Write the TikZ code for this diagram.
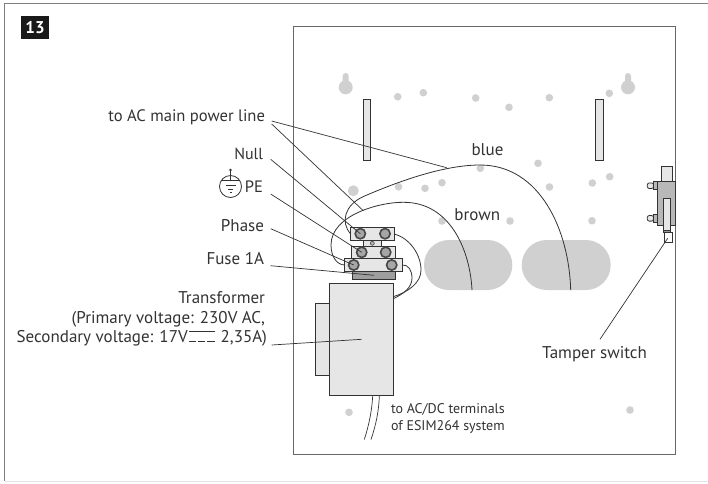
\documentclass[tikz,border=0pt]{standalone}
\usepackage{fontspec}
\setmainfont{PT Sans}
\definecolor{dotgrey}{HTML}{CFD0CF}
\definecolor{pale}{HTML}{E6E6E6}
\definecolor{ink}{HTML}{333333}
\definecolor{framegrey}{HTML}{808080}
\newcommand{\blk}[6]{%
  \pgfmathsetmacro{\cxx}{(#2+#4)/2}\pgfmathsetmacro{\cyy}{(#3+#5)/2}%
  \pgfmathsetmacro{\www}{#4-#2}\pgfmathsetmacro{\hhh}{#5-#3}%
  \node[part,#6,minimum width=\www pt,minimum height=\hhh pt] (#1) at (\cxx,\cyy) {};}
\tikzset{
  part/.style={draw=ink,fill=pale,line width=0.8pt,rectangle,inner sep=0pt,outer sep=0pt},
  hole/.style={fill=dotgrey,draw=none},
  screw/.style={circle,draw=black!72,fill=black!35,line width=1.6pt,minimum size=10.3pt,inner sep=0pt,outer sep=0pt},
  lbl/.style={inner sep=0pt,outer sep=0pt,text=ink,font=\fontsize{17}{19}\selectfont,anchor=base east},
  small/.style={font=\fontsize{14}{16}\selectfont,anchor=base west},
  lead/.style={draw=ink,line width=0.7pt},
  wire/.style={draw=ink,line width=0.8pt}
}
\begin{document}
\begin{tikzpicture}[x=1pt,y=-1pt]
\useasboundingbox (0,0) rectangle (708,483);
\fill[white] (0,0) rectangle (708,483);
% outer frame
\draw[framegrey,line width=1pt] (708,3) -- (4.5,3) -- (4.5,481);
\draw[black!10,line width=0.8pt] (4.5,481.5) -- (708,481.5);
\node[fill=black!90,text=white,inner sep=0pt,minimum width=28pt,minimum height=23pt,font=\fontsize{17}{18}\selectfont\bfseries] (badge) at (35,27.5) {13};
% cabinet
\draw[framegrey!80!black,line width=1pt] (293,26.5) rectangle (675,454.5);
% keyholes
\foreach \kx in {345.7,628}{
  \fill[hole] (\kx,87.3) circle[radius=7pt];
  \fill[hole,rounded corners=3pt] (\kx-3,73) rectangle (\kx+3,88);
}
% dots
\foreach \dx/\dy in {397.7/96.7,423.3/92.7,475.7/98,509/107.3,549.3/97.7,609.3/93.3,480.3/168.3,538/163.3,398.5/186.8,425/188.3,442/182.7,549.5/187,592.3/183,609.7/176.7,442/221,510/221,592/220.7,349/412.3,630/410}{
  \fill[hole] (\dx,\dy) circle[radius=3.8pt];
}
\fill[hole] (353.3,190.8) circle[radius=5.5pt];
% stadiums
\fill[hole,rounded corners=24.9pt] (424,240) rectangle (512.3,290);
\fill[hole,rounded corners=24.9pt] (521.7,240) rectangle (610.7,290);
% bars
\blk{barL}{363}{99.3}{370.7}{160.7}{}
\blk{barR}{595.7}{99.3}{603.7}{160.7}{}
% transformer
\blk{xfmrSide}{315.7}{303}{329.3}{375.3}{}
\blk{xfmr}{329.3}{283}{393.3}{395.7}{}
% terminal blocks
\blk{fuse}{352.7}{271.3}{395}{279}{fill=black!38}
\blk{link}{363.3}{240.3}{381.7}{246.3}{}
\blk{blockA}{350.7}{227.7}{394}{240.3}{}
\blk{blockB}{351.7}{246.3}{395}{258.7}{}
\blk{blockC}{344.7}{258.7}{402.3}{271.3}{}
\node[circle,draw=black!70,fill=black!30,line width=0.6pt,minimum size=4pt,inner sep=0pt] (linkdot) at (372.3,243.3) {};
\node[screw] (sA1) at (360.3,233.7) {};
\node[screw] (sA2) at (385,233.7) {};
\node[screw] (sB1) at (361.7,252.3) {};
\node[screw] (sB2) at (385.7,252.3) {};
\node[screw] (sC1) at (353.7,265) {};
\node[screw] (sC2) at (391.7,265) {};
% tamper switch
\blk{tTop}{661}{166.7}{672.7}{181}{}
\blk{tBody}{657.3}{181}{675}{225.3}{fill=black!28}
\blk{tSlot}{663.3}{198.7}{670.7}{230}{}
\blk{tCap}{663.3}{230}{670.7}{232.7}{fill=black!40}
\blk{tFoot}{664.3}{232.7}{672}{242.7}{fill=white}
\foreach \py/\pn in {185.7/a,218.3/b}{
  \draw[part,rounded corners=2pt] (647.3,\py-2.8) rectangle (653.5,\py+2.8);
  \draw[part,fill=black!28] (653.3,\py-4) rectangle (657.3,\py+4);
}
% wire coordinates
\coordinate (stadL) at (472,290);
\coordinate (stadR) at (570.7,290);
\coordinate (xfmrW1) at (393.3,296.7);
\coordinate (xfmrW2) at (393.3,298.7);
\coordinate (cable1) at (372.7,395.7);
\coordinate (cable2) at (379.3,395.7);
\coordinate (cableEnd1) at (364.3,439.5);
\coordinate (cableEnd2) at (371,439.5);
% wires
\draw[wire] (stadR) .. controls (569,230) and (540,165) .. (480,165) .. controls (440,165) and (390,185) .. (363,196.7) .. controls (345,205) and (340,222) .. (blockA.west);
\draw[wire] (stadL) .. controls (470,250) and (450,202) .. (403.3,202.3) .. controls (380,202) and (331,215) .. (331,245) .. controls (331,258) and (338,265) .. (blockC.west);
\draw[wire] (blockA.east) .. controls (410,238) and (421,255) .. (421,270) .. controls (421,283) and (408,292) .. (xfmrW1);
\draw[wire] (blockC.east) .. controls (408,264.5) and (412,270) .. (412,278) .. controls (412,288) and (403,294) .. (xfmrW2);
\draw[wire,line width=0.7pt] (cable1) .. controls (372,410) and (369,425) .. (cableEnd1);
\draw[wire,line width=0.7pt] (cable2) .. controls (379,410) and (376,425) .. (cableEnd2);
% labels
\node[lbl,font=\fontsize{16.6}{19}\selectfont] (tAC) at (265,121) {to AC main power line};
\node[lbl,font=\fontsize{16}{19}\selectfont] (tNull) at (263,159) {Null};
\node[lbl,font=\fontsize{16.5}{19}\selectfont] (tPE) at (263,192.5) {PE};
\node[lbl] (tPhase) at (264,231.5) {Phase};
\node[lbl] (tFuse) at (264,264.5) {Fuse 1A};
\node[lbl] (tX1) at (265,303) {Transformer};
\node[lbl] (tX2) at (265,323) {(Primary voltage: 230V AC,};
\node[lbl] (tX3) at (267,342) {Secondary voltage: 17V\hspace{33pt}2,35A)};
\node[lbl,anchor=base] (tBlue) at (487.5,155) {blue};
\node[lbl,anchor=base] (tBrown) at (477.3,220) {brown};
\node[lbl,anchor=base] (tTamper) at (594.5,358) {Tamper switch};
\node[lbl,small] (tDC1) at (391,413) {to AC/DC terminals};
\node[lbl,small] (tDC2) at (391,430) {of ESIM264 system};
% dc symbol
\draw[ink,line width=0.7pt] (189,331.5) -- (214.5,331.5);
\draw[ink,line width=0.7pt,dash pattern=on 7.2pt off 2pt] (189,341) -- (214.5,341);
% earth symbol
\draw[ink,line width=0.8pt] (230.5,186.5) circle[radius=11pt];
\draw[ink,line width=0.8pt] (220.8,180.8) -- (240.2,180.8);
\draw[ink,line width=0.8pt] (230.5,170) -- (230.5,180.8);
\fill[ink] (230.5,170) circle[radius=1.3pt];
\draw[ink,line width=0.8pt] (226,185.5) -- (235.5,185.5);
\draw[ink,line width=0.8pt] (228,189) -- (233,189);
\draw[ink,line width=0.8pt] (229.5,192) -- (231.5,192);
% leaders
\coordinate (acS1) at (271.7,121);
\coordinate (acS2) at (271.7,124);
\coordinate (acE1) at (446.7,167.7);
\coordinate (acE2) at (363.3,210.7);
\coordinate (nullS) at (270.7,159.3);
\coordinate (peS) at (270.7,194);
\coordinate (phS) at (270.7,228.7);
\coordinate (fuS) at (270.7,265.7);
\coordinate (fuE) at (374,275.3);
\coordinate (xfS) at (271.7,345);
\coordinate (xfE) at (361.7,339.3);
\coordinate (taS) at (600,339.3);
\coordinate (taE) at (667.7,238.3);
\draw[lead] (acS1) -- (acE1);
\draw[lead] (acS2) -- (acE2);
\draw[lead] (nullS) -- (sA1.center);
\draw[lead] (peS) -- (sB1.center);
\draw[lead] (phS) -- (sC1.center);
\draw[lead] (fuS) -- (fuE);
\draw[lead] (xfS) -- (xfE);
\draw[lead] (taS) -- (taE);
\end{tikzpicture}
\end{document}
